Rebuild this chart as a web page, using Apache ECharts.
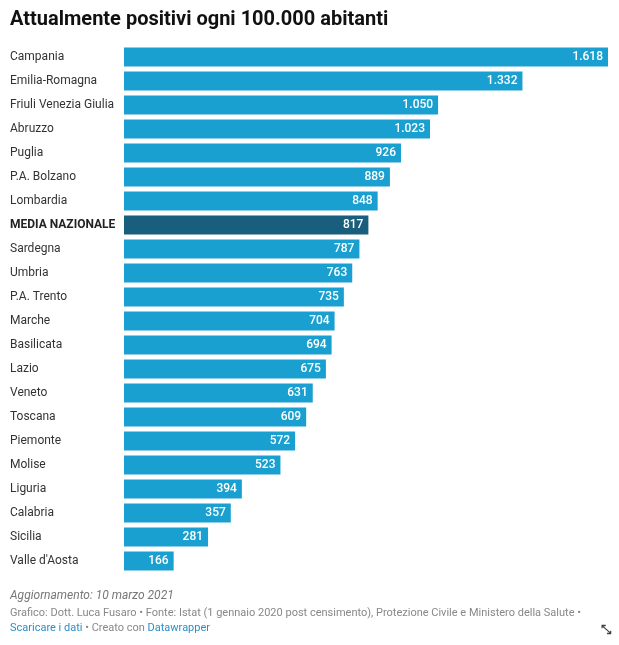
<!DOCTYPE html>
<html><head><meta charset="utf-8">
<script src="https://cdn.jsdelivr.net/npm/echarts@6/dist/echarts.min.js"></script>
<style>body{margin:0;background:#fff}#c{width:619px;height:645px}</style>
</head><body><div id="c"></div>
<script>
const categories=["Campania","Emilia-Romagna","Friuli Venezia Giulia","Abruzzo","Puglia","P.A. Bolzano","Lombardia","MEDIA NAZIONALE","Sardegna","Umbria","P.A. Trento","Marche","Basilicata","Lazio","Veneto","Toscana","Piemonte","Molise","Liguria","Calabria","Sicilia","Valle d'Aosta"];
const values=[1618,1332,1050,1023,926,889,848,817,787,763,735,704,694,675,631,609,572,523,394,357,281,166];
const fmt=v=>String(v).replace(/\B(?=(\d{3})+(?!\d))/g,".");
const F="Roboto";
const chart=echarts.init(document.getElementById('c'));
chart.setOption({
 animation:false,
 textStyle:{fontFamily:F},
 grid:{left:124,right:11,top:45,bottom:72},
 xAxis:{type:'value',min:0,max:1618,show:false},
 yAxis:{type:'category',data:categories,inverse:true,axisLine:{show:false},axisTick:{show:false},
  axisLabel:{align:'left',margin:114,color:'#333',fontSize:12,fontFamily:F,
   formatter:v=>v==="MEDIA NAZIONALE"?"{b|"+v+"}":v,rich:{b:{fontWeight:'bold',fontSize:12,color:'#222',fontFamily:F}}}},
 series:[{type:'bar',barCategoryGap:'20%',
  data:values.map((v,i)=>({value:v,itemStyle:{color:categories[i]==="MEDIA NAZIONALE"?'#195f7d':'#1aa0d0'}})),
  label:{show:true,position:'insideRight',distance:5,color:'#fff',fontSize:12,fontWeight:500,fontFamily:F,formatter:p=>fmt(p.value)}}],
 graphic:[
  {type:'text',left:10,top:10,style:{text:'Attualmente positivi ogni 100.000 abitanti',font:'bold 20px Roboto',fill:'#111'}},
  {type:'text',left:10,top:590,style:{text:'Aggiornamento: 10 marzo 2021',font:'italic 12px Roboto',fill:'#777'}},
  {type:'text',left:10,top:608,style:{text:'Grafico: Dott. Luca Fusaro • Fonte: Istat (1 gennaio 2020 post censimento), Protezione Civile e Ministero della Salute •',font:'11px Roboto',fill:'#888'}},
  {type:'text',left:10,top:623,style:{text:'{a|Scaricare i dati} • Creato con {a|Datawrapper}',font:'11px Roboto',fill:'#888',rich:{a:{fill:'#2b8fc7',font:'11px Roboto'}}}},
  {type:'text',right:8,top:624,style:{text:'⤡',font:'bold 13px DejaVu Sans',fill:'#444'}}
 ]
});
</script></body></html>
